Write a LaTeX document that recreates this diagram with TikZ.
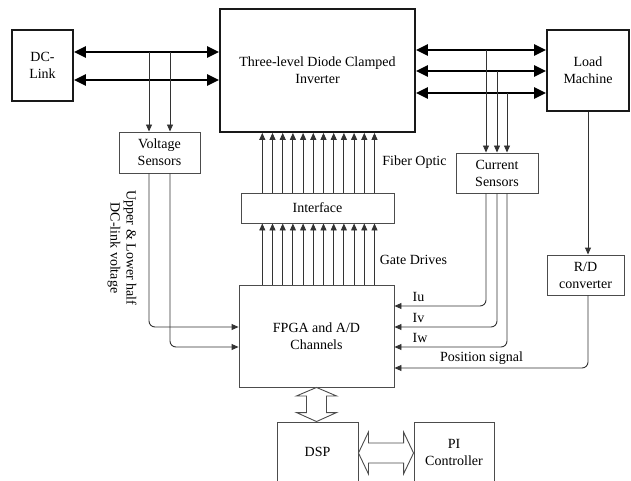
\documentclass[tikz,border=0pt]{standalone}
\usepackage{fontspec}
\setmainfont{Liberation Serif}
\usetikzlibrary{arrows.meta}
\begin{document}
\begin{tikzpicture}[x=1pt,y=-1pt,
  font=\fontsize{14}{17}\selectfont,
  heavybox/.style={draw=black!90,line width=1.8pt,inner sep=0pt,align=center},
  lightbox/.style={draw=black!70,line width=0.9pt,inner sep=0pt,align=center},
  bus/.style={line width=2.6pt,{Triangle[length=12pt,width=11pt]}-{Triangle[length=12pt,width=11pt]}},
  tap/.style={draw=black!75,line width=0.9pt},
  sig/.style={draw=black!80,line width=0.9pt,-{Triangle[length=7pt,width=6pt]}},
  hollow/.style={draw=black!70,line width=0.9pt,fill=white,line join=miter},
  lbl/.style={inner sep=0pt}]
\useasboundingbox (0,0) rectangle (631,481);

% blocks
\node[heavybox,minimum width=61pt,minimum height=71pt] (dclink) at (42.5,65.5) {DC-\\Link};
\node[heavybox,minimum width=195pt,minimum height=123pt] (inv) at (317.5,70.5) {Three-level Diode Clamped\\Inverter};
\node[heavybox,minimum width=82pt,minimum height=81pt] (load) at (588,70.5) {Load\\Machine};
\node[lightbox,minimum width=81pt,minimum height=41pt] (vs) at (159.5,152.5) {Voltage\\Sensors};
\node[lightbox,minimum width=82pt,minimum height=40pt] (cs) at (497,173) {Current\\Sensors};
\node[lightbox,minimum width=153pt,minimum height=30pt] (intf) at (317.5,208) {Interface};
\node[lightbox,minimum width=155pt,minimum height=102pt] (fpga) at (316.5,336) {FPGA and A/D\\Channels};
\node[lightbox,minimum width=77pt,minimum height=40pt] (rd) at (585.5,275) {R/D\\converter};
\node[lightbox,minimum width=81pt,minimum height=60pt] (dsp) at (317.5,452) {DSP};
\node[lightbox,minimum width=80pt,minimum height=60pt] (pi) at (454,452) {PI\\Controller};

% power buses
\coordinate (dcA) at ([yshift=13.5pt]dclink.east);
\coordinate (dcB) at ([yshift=-14.5pt]dclink.east);
\draw[bus] (dcA) -- (dcA -| inv.west);
\draw[bus] (dcB) -- (dcB -| inv.west);
\coordinate (phU) at ([yshift=20.5pt]inv.east);
\coordinate (phV) at ([yshift=-0.5pt]inv.east);
\coordinate (phW) at ([yshift=-22.5pt]inv.east);
\draw[bus] (phU) -- (phU -| load.west);
\draw[bus] (phV) -- (phV -| load.west);
\draw[bus] (phW) -- (phW -| load.west);

% voltage taps
\coordinate (vt1) at ([xshift=-10.5pt]vs.north);
\coordinate (vt2) at ([xshift=10.5pt]vs.north);
\draw[sig] (vt1 |- dcA) -- (vt1);
\draw[sig] (vt2 |- dcA) -- (vt2);

% current taps
\coordinate (ct1) at ([xshift=-11pt]cs.north);
\coordinate (ct2) at (cs.north);
\coordinate (ct3) at ([xshift=10pt]cs.north);
\draw[sig] (ct1 |- phU) -- (ct1);
\draw[sig] (ct2 |- phV) -- (ct2);
\draw[sig] (ct3 |- phW) -- (ct3);

% gate drive and fibre optic channels
\foreach \i in {0,...,11}{
  \coordinate (g\i) at ([xshift={262.3pt+10.2pt*\i-317.5pt}]intf.south);
  \draw[sig] (g\i |- fpga.north) -- (g\i);
  \draw[sig] (g\i |- intf.north) -- (g\i |- inv.south);
}
\node[lbl] (fo) at (414.5,162) {Fiber Optic};
\node[lbl] (gd) at (413.5,260) {Gate Drives};

% voltage feedback
\coordinate (vf1) at ([yshift=9pt]fpga.west);
\coordinate (vf2) at ([yshift=-11pt]fpga.west);
\draw[sig,rounded corners=6pt] ([xshift=-10.5pt]vs.south) |- (vf1);
\draw[sig,rounded corners=6pt] ([xshift=10.5pt]vs.south) |- (vf2);
\node[lbl,rotate=-90,align=center,font=\fontsize{14}{16}\selectfont] (vlbl) at (122,248) {Upper \& Lower half\\DC-link voltage};

% current feedback
\coordinate (cf1) at ([yshift=30pt]fpga.east);
\coordinate (cf2) at ([yshift=9pt]fpga.east);
\coordinate (cf3) at ([yshift=-11pt]fpga.east);
\draw[sig,rounded corners=6pt] ([xshift=-11pt]cs.south) |- (cf1);
\draw[sig,rounded corners=6pt] (cs.south) |- (cf2);
\draw[sig,rounded corners=6pt] ([xshift=10pt]cs.south) |- (cf3);
\node[lbl,anchor=south west] (iu) at ([xshift=18pt,yshift=4pt]cf1) {Iu};
\node[lbl,anchor=south west] (iv) at ([xshift=18pt,yshift=4pt]cf2) {Iv};
\node[lbl,anchor=south west] (iw) at ([xshift=18pt,yshift=4pt]cf3) {Iw};

% position feedback
\draw[sig] (load.south) -- (load.south |- rd.north);
\coordinate (pf) at ([yshift=-32pt]fpga.east);
\draw[sig,rounded corners=6pt] (load.south |- rd.south) |- (pf);
\node[lbl] (pos) at (481.5,358) {Position signal};

% data links to the DSP and PI controller
\coordinate (va) at (fpga.south -| 316.5,0);
\coordinate (vb) at (dsp.north -| 316.5,0);
\draw[hollow] (va) -- ++(20,8.5) -- ++(-10,0) |- ([shift={(10,-9)}]vb) -- ++(10,0)
  -- (vb) -- ++(-20,-9) -- ++(10,0) |- ([shift={(-10,8.5)}]va) -- ++(-10,0) -- cycle;
\coordinate (ha) at (dsp.east |- 0,453);
\coordinate (hb) at (pi.west |- 0,453);
\draw[hollow] (ha) -- ++(10,-21) -- ++(0,11) -| ([shift={(-10,-10)}]hb) -- ++(0,-11)
  -- (hb) -- ++(-10,21) -- ++(0,-11) -| ([shift={(10,10)}]ha) -- ++(0,11) -- cycle;
\end{tikzpicture}
\end{document}
